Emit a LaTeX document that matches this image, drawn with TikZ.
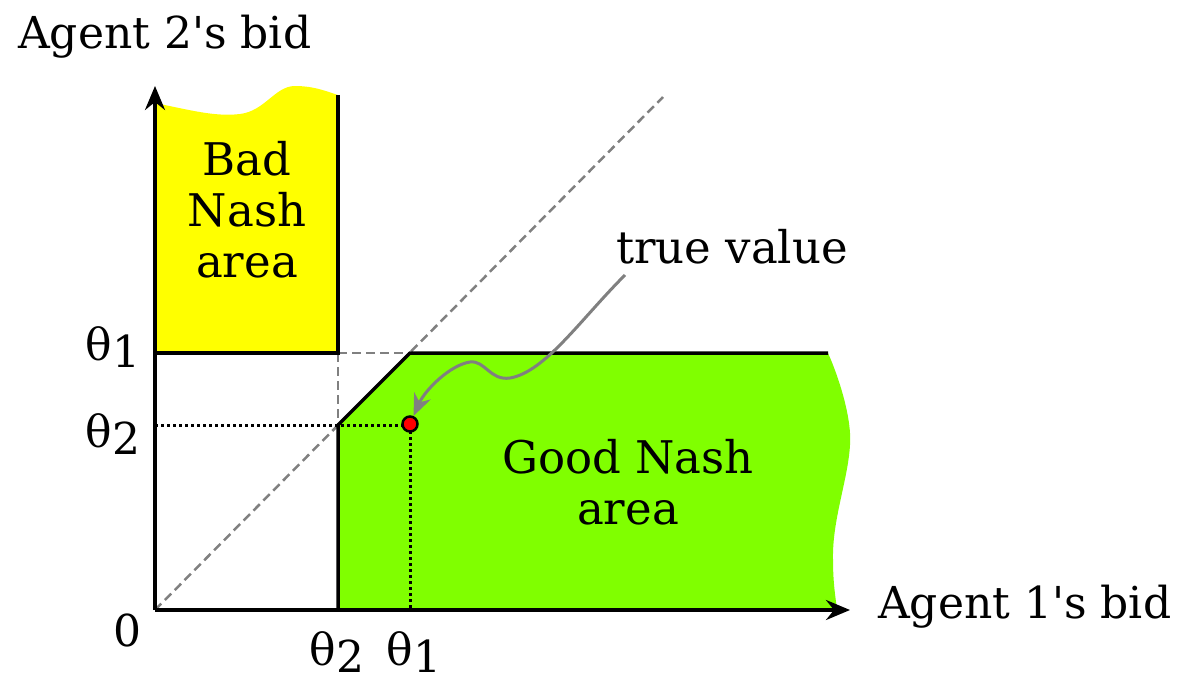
\documentclass[tikz,border=0pt]{standalone}
\usepackage{fontspec}
\setmainfont{DejaVu Serif}
\usetikzlibrary{arrows.meta}
\definecolor{badyellow}{HTML}{FFFF00}
\definecolor{goodgreen}{HTML}{80FF00}
\definecolor{dotred}{HTML}{FF0000}
\newcommand{\thsub}[1]{θ\raisebox{-7pt}{#1}}
\begin{document}
\begin{tikzpicture}[x=1pt,y=-1pt,
  axis/.style={line width=3.5pt,-{Stealth[length=24pt,width=20pt,inset=8pt]}},
  edge/.style={line width=3.5pt},
  guide/.style={line width=2.5pt,gray,dash pattern=on 9pt off 5pt},
  dotline/.style={line width=3pt,dash pattern=on 3pt off 3pt},
  label/.style={font=\fontsize{44}{52}\selectfont,inner sep=0pt},
  area/.style={font=\fontsize{45}{51}\selectfont,align=center,inner sep=0pt},
  pointer/.style={line width=3pt,gray,-{Stealth[length=22pt,width=18pt,inset=7pt]}},
  dotnode/.style={circle,fill=dotred,draw=black,line width=2.5pt,minimum size=15pt,inner sep=0pt}]
\useasboundingbox (0,0) rectangle (1189,681);
% areas
\fill[badyellow] (155,353) -- (155,103) .. controls (190,110) and (215,117) .. (240,114)
  .. controls (265,111) and (275,86) .. (295,86) .. controls (315,86) and (328,92) .. (338,95)
  -- (338,353) -- cycle;
\fill[goodgreen] (338,610) -- (338,425) -- (410,353) -- (828,353)
  .. controls (840,380) and (852,420) .. (850,445) .. controls (848,480) and (832,520) .. (833,560)
  .. controls (833,585) and (836,600) .. (837,610) -- cycle;
% coordinates
\coordinate (O) at (155,610);
\coordinate (Ytip) at (155,86);
\coordinate (Xtip) at (850,610);
\coordinate (D) at (663,97);
\coordinate (Y1) at (155,353);
\coordinate (Y2) at (155,425);
\coordinate (A) at (338,95);
\coordinate (B) at (338,353);
\coordinate (C) at (338,425);
\coordinate (E) at (410,353);
\coordinate (F) at (828,353);
\coordinate (G) at (338,610);
\coordinate (P) at (410,425);
\coordinate (H) at (410,610);
% guides
\draw[guide] (O) -- (D);
\draw[guide] (B) -- (E);
\draw[guide] (B) -- (C);
\draw[dotline] (Y2) -- (P);
\draw[dotline] (P) -- (H);
% edges
\draw[edge] (A) -- (B) -- (Y1);
\draw[edge] (G) -- (C) -- (E) -- (F);
\draw[axis] (O) -- (Ytip);
\draw[axis] (O) -- (Xtip);
% point
\node[dotnode] (pt) at (410,424) {};
% labels
\node[label,anchor=west] (ylab) at (18,37) {Agent 2\textquotesingle s bid};
\node[label,anchor=west] (xlab) at (878,607) {Agent 1\textquotesingle s bid};
\node[label] (zero) at (127,630) {0};
\node[label] (t2x) at (337,652) {\thsub{2}};
\node[label] (t1x) at (414,652) {\thsub{1}};
\node[label] (t1y) at (113,347) {\thsub{1}};
\node[label] (t2y) at (113,434) {\thsub{2}};
\node[area] (tv) at (732,247) {true value};
\node[area] (bad) at (247,210) {Bad\\Nash\\area};
\node[area] (good) at (628,482) {Good Nash\\area};
\draw[pointer] (625,275) .. controls (580,320) and (545,372) .. (510,378)
  .. controls (490,381) and (485,360) .. (470,362) .. controls (450,365) and (425,390) .. (pt);
\end{tikzpicture}
\end{document}
